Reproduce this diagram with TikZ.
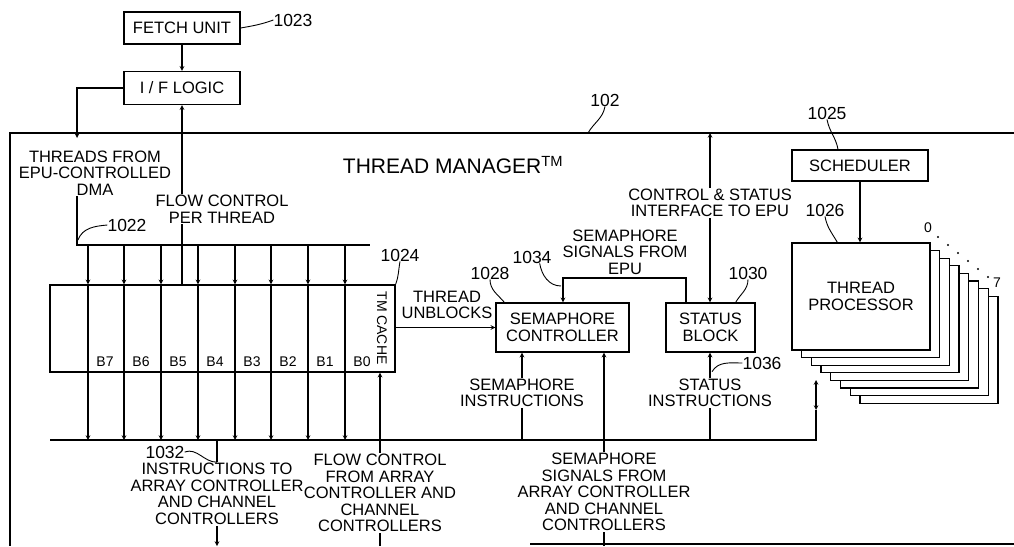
\documentclass[tikz,border=0pt]{standalone}
\usepackage{fontspec}
\setmainfont{Liberation Sans}
\usetikzlibrary{arrows,calc}
\newcommand{\lblfont}{\fontsize{16.5}{16.5}\selectfont}
\newcommand{\numfont}{\fontsize{17.5}{18}\selectfont}
\newcommand{\smallfont}{\fontsize{14}{14}\selectfont}
\newcommand{\titlefont}{\fontsize{21}{22}\selectfont}

\begin{document}
\begin{tikzpicture}[x=1pt,y=-1pt,
  box/.style={rectangle,draw,line width=1.3pt,align=center,inner sep=0pt,font=\lblfont},
  lbl/.style={align=center,inner sep=1pt,font=\lblfont},
  refnum/.style={inner sep=0pt,font=\numfont},
  arrow/.style={->,>=stealth,line width=1.1pt},
  wire/.style={line width=1.1pt},
  lead/.style={line width=0.9pt}
]
\useasboundingbox (0,0) rectangle (1014,546);

\node[box,minimum width=116pt,minimum height=32pt] (fetch) at (182,28) {FETCH UNIT};
\node[box,minimum width=116pt,minimum height=33pt] (ifl) at (182,88) {I / F LOGIC};
\node[refnum] (n1023) at (293,20) {1023};
\draw[lead] (fetch.east) to[out=10,in=200] (n1023.west);
\draw[arrow] (fetch) -- (ifl);

\draw[wire] (1014,133) -- (10,133) -- (10,546);
\draw[wire] (530,544) -- (1014,544);
\node[refnum] (n102) at (605,100) {102};
\draw[lead] (n102.south) to[out=-100,in=60] (588,133);
\node[font=\titlefont] (tmtitle) at (453,165) {THREAD MANAGER\textsuperscript{TM}};

\coordinate (dmain) at (77,138);
\coordinate (b1L) at (77,245);
\coordinate (b1R) at (370,245);
\coordinate (b2L) at (50,440);
\coordinate (b2R) at (816,440);
\coordinate (tpmid) at (816,410);
\coordinate (tpio) at (816,380);
\draw[arrow] (ifl.west) -| (dmain);
\node[lbl] (dma) at (95,173) {THREADS FROM\\EPU-CONTROLLED\\DMA};
\draw[wire] (dma.south -| b1L) -- (b1L) -- (b1R);
\node[refnum] (n1022) at (127,225) {1022};
\draw[lead] (n1022.west) to[out=185,in=70] (78,240);

\node[box,minimum width=345pt,minimum height=87pt] (cache) at (222.5,328.5) {};
\node[font=\smallfont,rotate=-90,inner sep=0pt] (tmc) at (382,328) {TM CACHE};
\node[refnum] (n1024) at (400,255) {1024};
\draw[lead] (n1024.south) to[out=-100,in=70] (cache.north east);

\foreach \x/\b [count=\i] in {88/7,124/6,161/5,198/4,235/3,271/2,308/1,345/0} {
  \coordinate (t\i) at (\x,245);
  \draw[arrow] (t\i) -- (t\i |- cache.north);
  \draw[arrow] (t\i |- cache.north) -- (t\i |- b2L);
  \node[font=\smallfont,inner sep=0pt] (b\b) at (\x+17,362) {B\b};
}

\draw[wire] (b2L) -- (b2R) -- (tpmid);
\draw[<->,>=stealth,wire] (tpmid) -- (tpio);

\draw[arrow] (cache.north -| ifl) -- (ifl.south);
\node[lbl,fill=white] (fpt) at (222,209) {FLOW CONTROL\\PER THREAD};

\node[lbl] (fca) at (380,493) {FLOW CONTROL\\FROM ARRAY\\CONTROLLER AND\\CHANNEL\\CONTROLLERS};
\coordinate (fcin) at (380,546);
\draw[arrow] (fca.north) -- (fca.north |- cache.south);
\draw[wire] (fcin) -- (fca.south);

\node[lbl] (ins) at (217,494) {INSTRUCTIONS TO\\ARRAY CONTROLLER\\AND CHANNEL\\CONTROLLERS};
\coordinate (insout) at (217,546);
\draw[wire] (ins.north |- b2L) -- (ins.north);
\draw[arrow] (ins.south) -- (insout);
\node[refnum] (n1032) at (165,452) {1032};
\draw[lead] (n1032.east) to[out=20,in=180] (ins.north);

\node[box,minimum width=133pt,minimum height=49pt] (semc) at (562.5,327.5) {SEMAPHORE\\CONTROLLER};
\node[box,minimum width=89pt,minimum height=49pt] (stat) at (710.5,327.5) {STATUS\\BLOCK};
\draw[arrow] (cache.east |- semc) -- (semc.west);
\node[lbl] (unb) at (447,305) {THREAD\\UNBLOCKS};
\node[refnum] (n1028) at (490,273) {1028};
\draw[lead] (n1028.south) to[out=-90,in=130] ($(semc.north west)+(9,0)$);

\coordinate (sigL) at (563,278);
\coordinate (sigR) at (686,278);
\draw[arrow] (stat.north -| sigR) -- (sigR) -- (sigL) -- (sigL |- semc.north);
\node[lbl] (sepu) at (625,252) {SEMAPHORE\\SIGNALS FROM\\EPU};
\node[refnum] (n1034) at (532,257) {1034};
\draw[lead] ($(n1034.south east)+(-12,0)$) to[out=-80,in=180] ($(sigL)+(-2,8)$);
\node[refnum] (n1030) at (748,273) {1030};
\draw[lead] (n1030.south) to[out=-90,in=60] ($(stat.north east)+(-20,0)$);

\coordinate (epuif) at (710,133);
\draw[<->,>=stealth,wire] (epuif) -- (stat.north -| epuif);
\node[lbl,fill=white] (csif) at (710,203) {CONTROL \& STATUS\\INTERFACE TO EPU};

\node[lbl] (sins) at (710,393) {STATUS\\INSTRUCTIONS};
\draw[wire] (sins.south |- b2L) -- (sins.south);
\draw[arrow] (sins.north) -- (sins.north |- stat.south);
\node[refnum] (n1036) at (762,363) {1036};
\draw[lead] (n1036.west) to[out=180,in=60] ($(sins.north)+(2,-6)$);

\node[lbl] (smins) at (522,393) {SEMAPHORE\\INSTRUCTIONS};
\draw[wire] (smins.south |- b2L) -- (smins.south);
\draw[arrow] (smins.north) -- (smins.north |- semc.south);

\node[lbl] (sarr) at (604,492) {SEMAPHORE\\SIGNALS FROM\\ARRAY CONTROLLER\\AND CHANNEL\\CONTROLLERS};
\coordinate (sarrin) at (604,546);
\draw[arrow] (sarr.north) -- (sarr.north |- semc.south);
\draw[wire] (sarrin) -- (sarr.south);

\node[box,minimum width=136pt,minimum height=31pt] (sched) at (860,165.5) {SCHEDULER};
\node[refnum] (n1025) at (827,113) {1025};
\draw[lead] (n1025.south) to[out=-80,in=100] ($(sched.north)+(-22,0)$);

\foreach \k in {7,...,1}
  \node[box,fill=white,minimum width=138pt,minimum height=107pt] (tp\k) at (861+9.7*\k,296.5+7.6*\k) {};
\node[box,fill=white,minimum width=138pt,minimum height=107pt] (tp) at (861,296.5) {THREAD\\PROCESSOR};
\draw[arrow] (sched.south) -- (sched.south |- tp.north);
\node[refnum] (n1026) at (825,210) {1026};
\draw[lead] (n1026.south) to[out=-80,in=120] ($(tp.north west)+(46,0)$);
\node[font=\smallfont,inner sep=0pt] (idx0) at (928,228) {0};
\node[font=\smallfont,inner sep=0pt] (idx7) at (997,283) {7};
\draw[line width=2.2pt,line cap=round,dash pattern=on 0pt off 12.8pt] ($(idx0)+(10,9)$) -- ($(idx7)+(-9,-6)$);
\end{tikzpicture}
\end{document}
